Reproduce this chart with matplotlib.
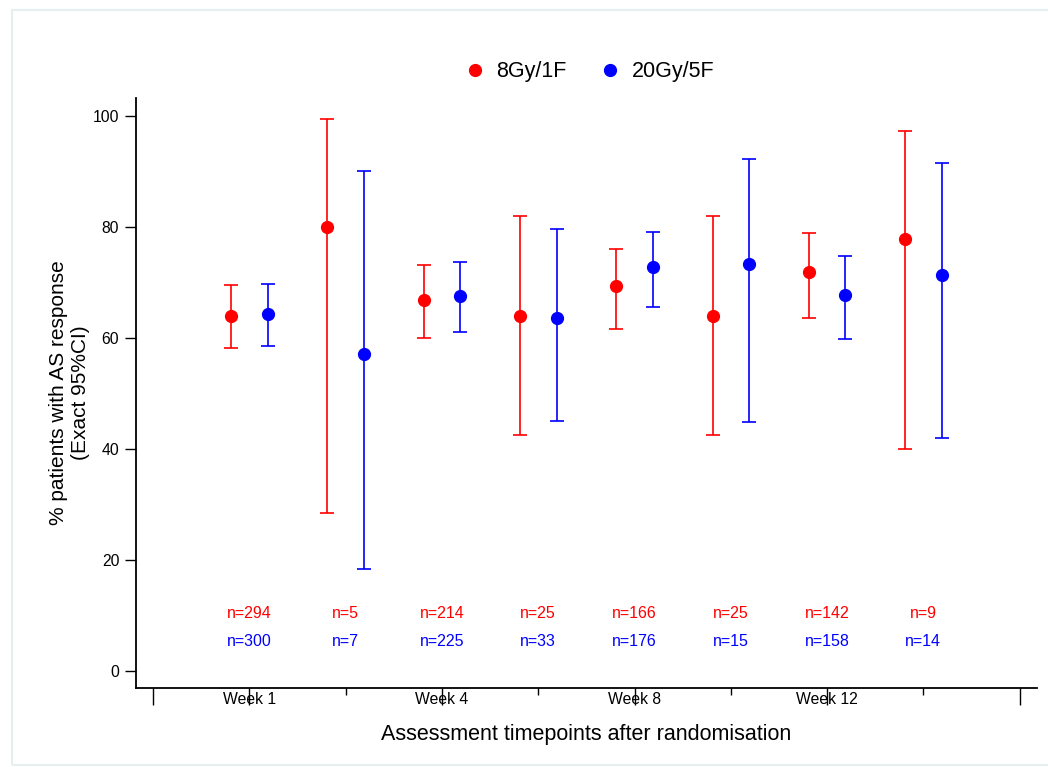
import numpy as np
import matplotlib
matplotlib.use('Agg')
import matplotlib.pyplot as plt
from matplotlib.patches import Rectangle
from matplotlib.lines import Line2D

plt.rcParams['font.family'] = ['Liberation Sans', 'DejaVu Sans']

# 数据
groups = [1, 2, 3, 4, 5, 6, 7, 8]
week_pos = [1, 3, 5, 7]
week_labels = ['Week 1', 'Week 4', 'Week 8', 'Week 12']
minor_pos = [2, 4, 6, 8]

red_est = [64.0, 80.0, 66.8, 64.0, 69.3, 64.0, 71.8, 77.8]
red_lo = [58.2, 28.4, 60.0, 42.5, 61.7, 42.5, 63.6, 40.0]
red_hi = [69.5, 99.5, 73.1, 82.0, 76.0, 82.0, 79.0, 97.2]
red_n = [294, 5, 214, 25, 166, 25, 142, 9]

blue_est = [64.3, 57.1, 67.6, 63.6, 72.7, 73.3, 67.7, 71.4]
blue_lo = [58.6, 18.4, 61.0, 45.1, 65.5, 44.9, 59.8, 41.9]
blue_hi = [69.8, 90.1, 73.7, 79.6, 79.1, 92.2, 74.8, 91.6]
blue_n = [300, 7, 225, 33, 176, 15, 158, 14]

red = '#ff0000'
blue = '#0000ff'

fig = plt.figure(figsize=(10.48, 7.67), dpi=100)
ax = fig.add_axes([0.1298, 0.103, 0.8597, 0.769])

# 外框
fig.patches.append(Rectangle((12 / 1048, 2 / 767), 1.1, 755 / 767, transform=fig.transFigure,
                             fill=False, edgecolor='#e6eef0', linewidth=1.5))

g = np.array(groups)
off = 0.19
for x, est, lo, hi, c in [(g - off, red_est, red_lo, red_hi, red), (g + off, blue_est, blue_lo, blue_hi, blue)]:
    est = np.array(est)
    yerr = [est - np.array(lo), np.array(hi) - est]
    ax.errorbar(x, est, yerr=yerr, fmt='o', color=c, ecolor=c, markersize=8.5,
                elinewidth=1.2, capsize=4.7, capthick=1.2)

for x, n in zip(groups, red_n):
    ax.text(x, 10.4, f'n={n}', color=red, ha='center', va='center', fontsize=11.5)
for x, n in zip(groups, blue_n):
    ax.text(x, 5.4, f'n={n}', color=blue, ha='center', va='center', fontsize=11.5)

ax.set_xlim(-0.177, 9.18)
ax.set_ylim(-3.06, 103.2)
ax.set_yticks([0, 20, 40, 60, 80, 100])
ax.tick_params(axis='y', length=8, width=1, labelsize=11.3, pad=4)

ax.set_xticks([0] + week_pos + [9])
ax.set_xticklabels([''] + week_labels + [''])
ax.set_xticks(minor_pos, minor=True)
ax.tick_params(axis='x', which='major', length=12, width=1, labelsize=11.3, pad=-9)
ax.tick_params(axis='x', which='minor', length=5, width=1)

for s in ['top', 'right']:
    ax.spines[s].set_visible(False)
ax.spines['left'].set_linewidth(1.3)
ax.spines['bottom'].set_linewidth(1.3)

ax.set_ylabel('% patients with AS response\n(Exact 95%CI)', fontsize=15, labelpad=2)
ax.set_xlabel('Assessment timepoints after randomisation', fontsize=15.5, labelpad=12)

handles = [Line2D([], [], marker='o', color=red, linestyle='', markersize=8.5),
           Line2D([], [], marker='o', color=blue, linestyle='', markersize=8.5)]
fig.legend(handles, ['8Gy/1F', '20Gy/5F'], loc='center', bbox_to_anchor=(586 / 1048, 1 - 72 / 767),
           ncol=2, frameon=False, fontsize=15.5, handletextpad=0.2, handlelength=1.6,
           columnspacing=1.2)

fig.savefig('out.png', dpi=100)
